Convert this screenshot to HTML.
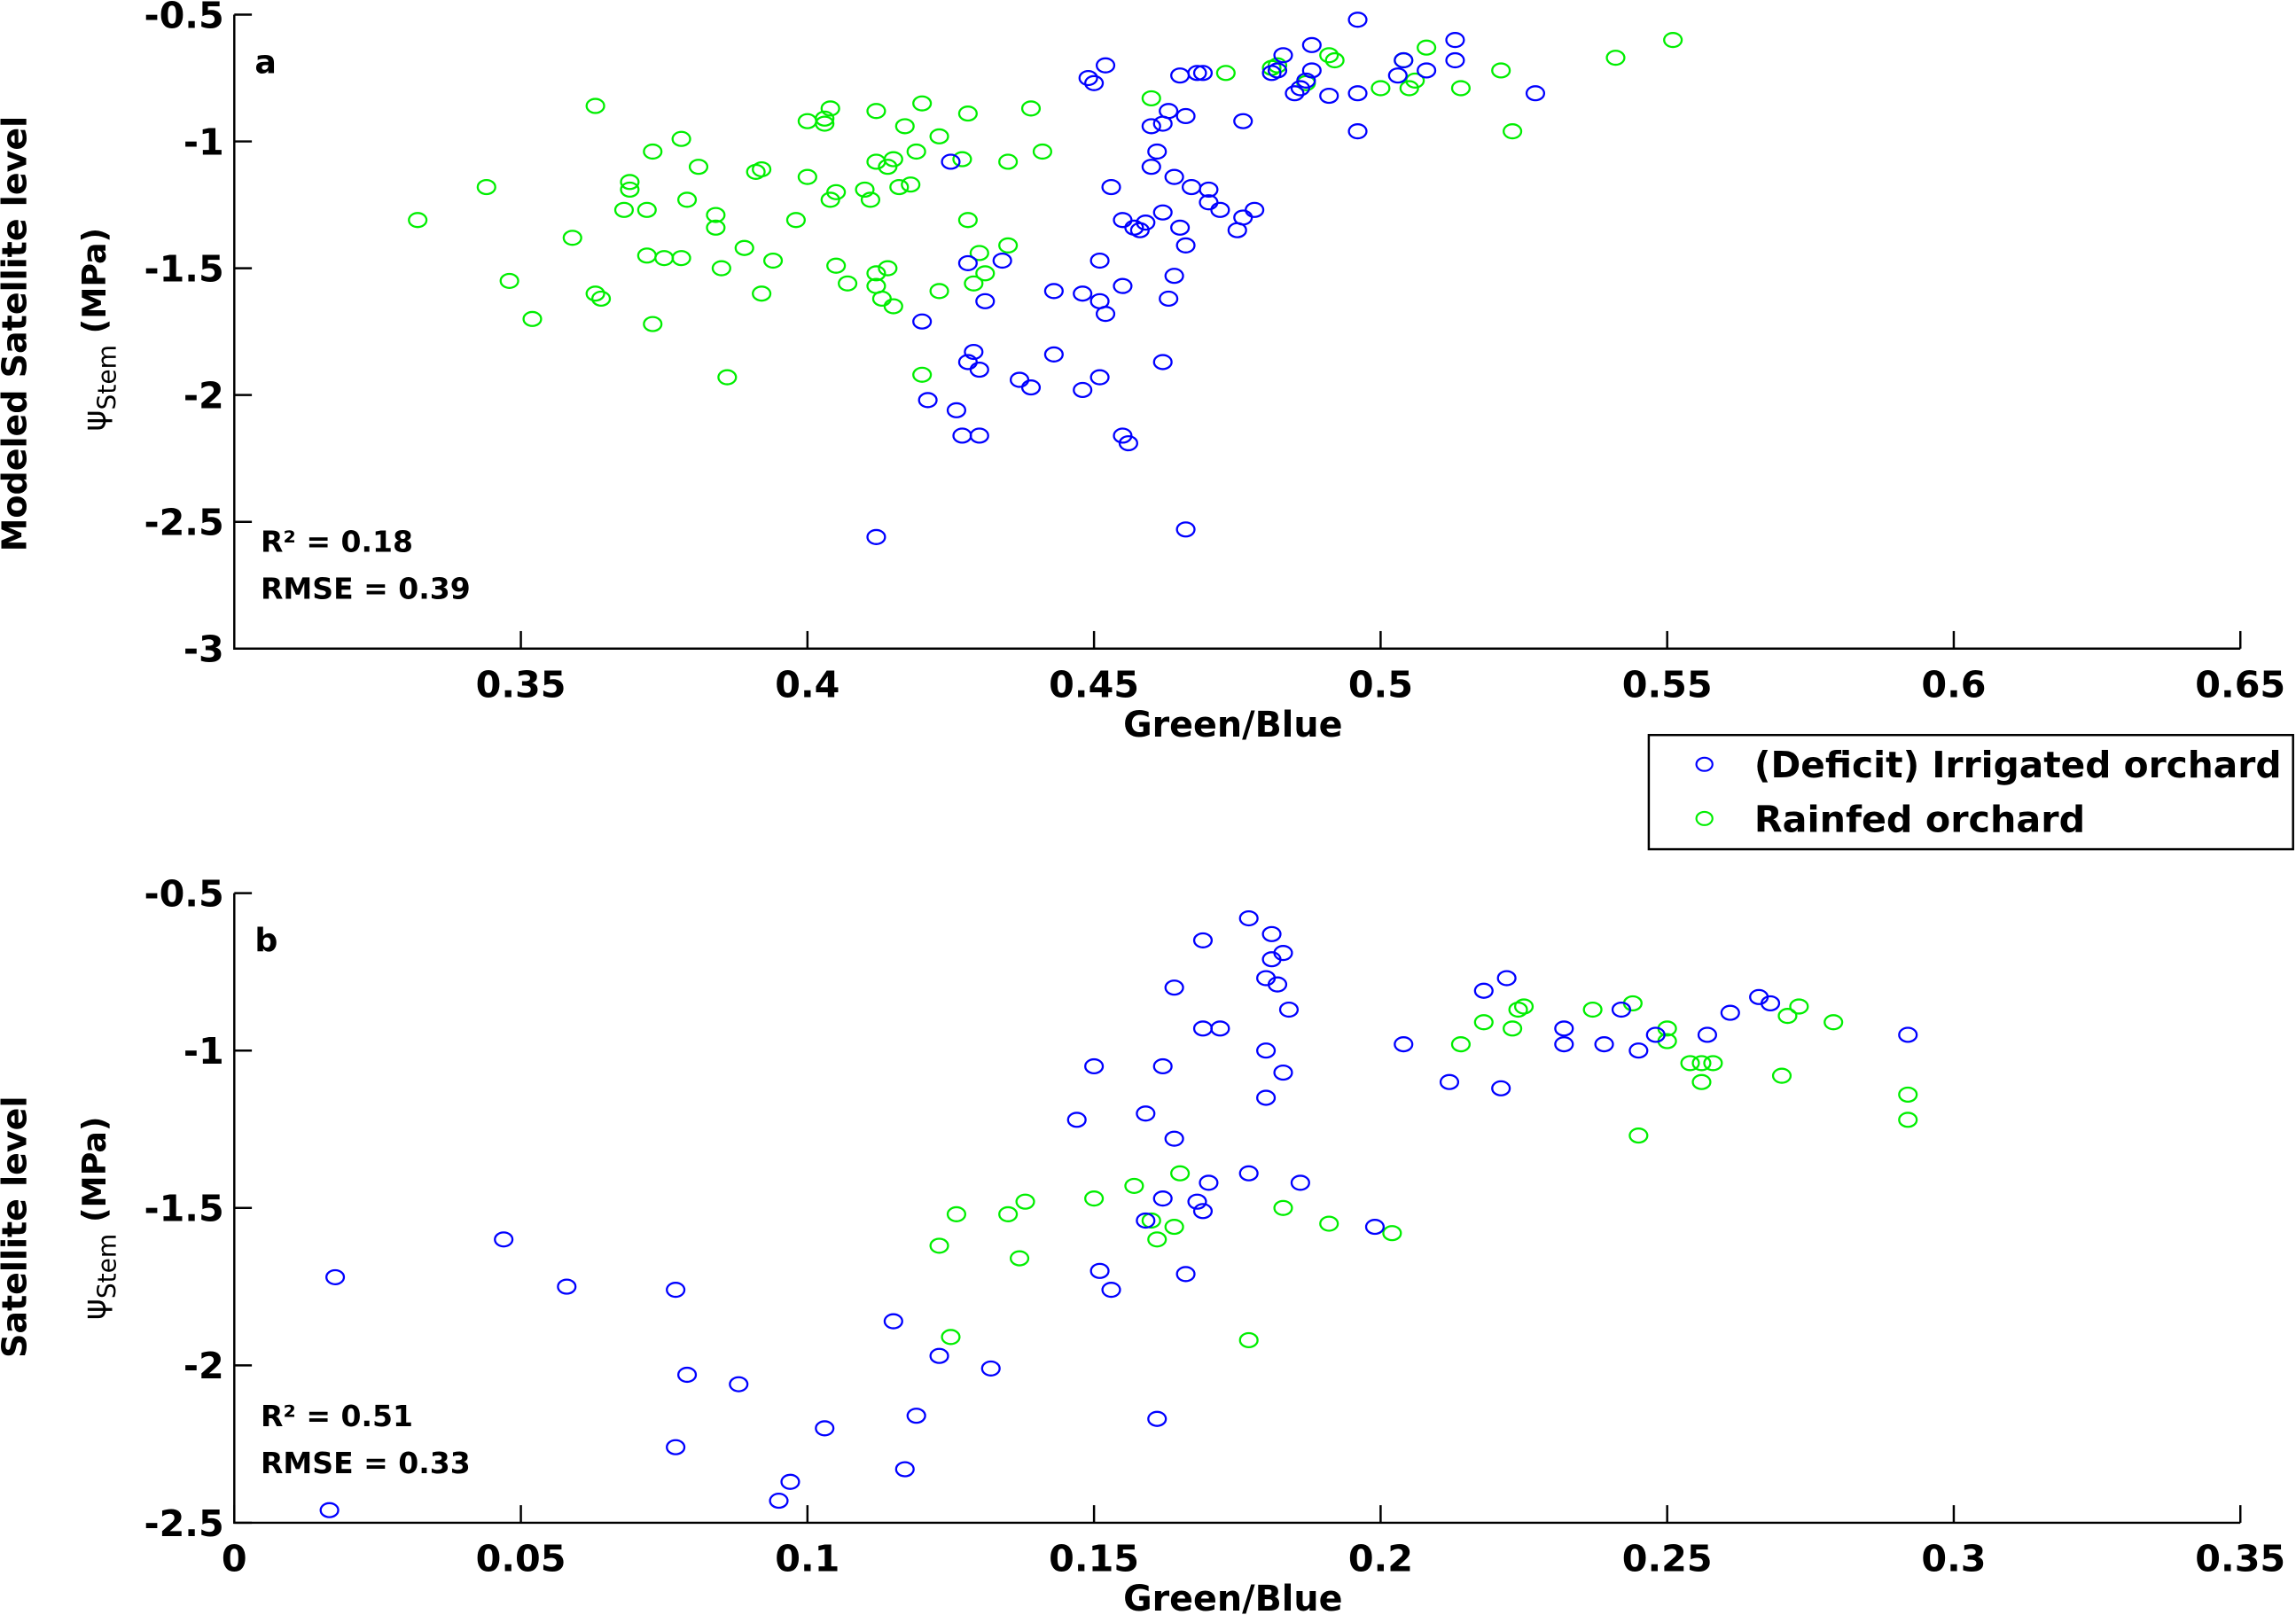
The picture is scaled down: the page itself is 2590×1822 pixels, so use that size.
<!DOCTYPE html>
<html><head><meta charset="utf-8"><style>
html,body{margin:0;padding:0;background:#fff}
svg{display:block}
text{font-family:"DejaVu Sans","Liberation Sans",sans-serif;font-weight:bold;fill:#000}
</style></head><body>
<svg id="chart" xmlns="http://www.w3.org/2000/svg" width="2590" height="1822" viewBox="0 0 1568 1103" preserveAspectRatio="none">
<g id="pa"></g>
<g id="pb"></g>
<g>
<rect x="1126" y="502" width="440" height="78" fill="#fff" stroke="#000" stroke-width="1.5"/>
<ellipse cx="1164" cy="522" rx="5.5" ry="4.5" fill="none" stroke="#0000ff" stroke-width="1.3"/>
<text x="1198" y="531" font-size="25" textLength="360" lengthAdjust="spacingAndGlyphs">(Deficit) Irrigated orchard</text>
<ellipse cx="1164" cy="559" rx="5.5" ry="4.5" fill="none" stroke="#00ee00" stroke-width="1.3"/>
<text x="1198" y="568" font-size="25" textLength="226" lengthAdjust="spacingAndGlyphs">Rainfed orchard</text>
</g>
</svg>
<script>
const aXTicks=[0.35,0.4,0.45,0.5,0.55,0.6,0.65];
const aXTickLabels=["0.35","0.4","0.45","0.5","0.55","0.6","0.65"];
const aYTicks=[-0.5,-1,-1.5,-2,-2.5,-3];
const aYTickLabels=["-0.5","-1","-1.5","-2","-2.5","-3"];
const aIrrX=[0.496,0.488,0.513,0.513,0.483,0.482,0.481,0.488,0.487,0.486,0.485,0.491,0.496,0.504,0.503,0.508,0.527,0.452,0.449,0.450,0.465,0.468,0.469,0.476,0.463,0.466,0.460,0.462,0.461,0.496,0.460,0.425,0.464,0.467,0.470,0.453,0.470,0.472,0.478,0.476,0.462,0.455,0.457,0.459,0.458,0.465,0.475,0.466,0.434,0.428,0.451,0.464,0.455,0.443,0.448,0.451,0.463,0.431,0.452,0.420,0.443,0.429,0.428,0.430,0.462,0.437,0.439,0.451,0.448,0.421,0.426,0.427,0.430,0.455,0.456,0.412,0.466];
const aIrrY=[-0.52,-0.62,-0.60,-0.68,-0.66,-0.72,-0.73,-0.72,-0.76,-0.79,-0.81,-0.82,-0.81,-0.68,-0.74,-0.72,-0.81,-0.70,-0.75,-0.77,-0.74,-0.73,-0.73,-0.92,-0.88,-0.90,-0.94,-0.93,-1.04,-0.96,-1.10,-1.08,-1.14,-1.18,-1.19,-1.18,-1.24,-1.27,-1.27,-1.30,-1.28,-1.31,-1.34,-1.32,-1.35,-1.34,-1.35,-1.41,-1.47,-1.48,-1.47,-1.53,-1.57,-1.59,-1.60,-1.63,-1.62,-1.63,-1.68,-1.71,-1.84,-1.83,-1.87,-1.90,-1.87,-1.94,-1.97,-1.93,-1.98,-2.02,-2.06,-2.16,-2.16,-2.16,-2.19,-2.56,-2.53];
const aRainX=[0.332,0.344,0.348,0.352,0.359,0.363,0.363,0.364,0.368,0.369,0.369,0.372,0.372,0.375,0.373,0.373,0.378,0.378,0.379,0.381,0.384,0.384,0.385,0.386,0.389,0.391,0.392,0.392,0.394,0.398,0.400,0.400,0.403,0.403,0.404,0.404,0.405,0.405,0.407,0.410,0.412,0.411,0.412,0.412,0.412,0.413,0.414,0.414,0.415,0.416,0.415,0.417,0.419,0.418,0.420,0.420,0.423,0.423,0.427,0.428,0.428,0.429,0.430,0.431,0.435,0.435,0.439,0.441,0.460,0.473,0.481,0.482,0.491,0.492,0.500,0.504,0.505,0.506,0.508,0.514,0.521,0.523,0.541,0.551,0.487];
const aRainY=[-1.31,-1.18,-1.55,-1.70,-1.38,-0.86,-1.60,-1.62,-1.27,-1.16,-1.19,-1.27,-1.45,-1.46,-1.72,-1.04,-0.99,-1.46,-1.23,-1.10,-1.29,-1.34,-1.50,-1.93,-1.42,-1.12,-1.11,-1.60,-1.47,-1.31,-0.92,-1.14,-0.93,-0.91,-0.87,-1.23,-1.20,-1.49,-1.56,-1.19,-1.08,-1.23,-0.88,-1.52,-1.57,-1.62,-1.50,-1.10,-1.07,-1.18,-1.65,-0.94,-1.04,-1.17,-0.85,-1.92,-0.98,-1.59,-1.07,-0.89,-1.31,-1.56,-1.44,-1.52,-1.41,-1.08,-0.87,-1.04,-0.83,-0.73,-0.71,-0.70,-0.66,-0.68,-0.79,-0.68,-0.79,-0.76,-0.63,-0.79,-0.72,-0.96,-0.67,-0.60,-0.77];

const bXTicks=[0,0.05,0.1,0.15,0.2,0.25,0.3,0.35];
const bXTickLabels=["0","0.05","0.1","0.15","0.2","0.25","0.3","0.35"];
const bYTicks=[-0.5,-1,-1.5,-2,-2.5];
const bYTickLabels=["-0.5","-1","-1.5","-2","-2.5"];
const bIrrX=[0.0176,0.0166,0.047,0.058,0.077,0.079,0.077,0.088,0.097,0.095,0.103,0.115,0.117,0.119,0.123,0.132,0.147,0.150,0.151,0.153,0.159,0.159,0.161,0.162,0.162,0.164,0.164,0.166,0.168,0.169,0.170,0.169,0.169,0.172,0.177,0.177,0.181,0.181,0.180,0.182,0.183,0.184,0.180,0.180,0.183,0.186,0.199,0.204,0.212,0.218,0.222,0.221,0.232,0.232,0.239,0.242,0.245,0.248,0.257,0.261,0.266,0.268,0.292];
const bIrrY=[-1.72,-2.46,-1.60,-1.75,-1.76,-2.03,-2.26,-2.06,-2.37,-2.43,-2.20,-1.86,-2.33,-2.16,-1.97,-2.01,-1.22,-1.05,-1.70,-1.76,-1.54,-1.20,-2.17,-1.47,-1.05,-1.28,-0.80,-1.71,-1.48,-1.51,-1.42,-0.65,-0.93,-0.93,-0.58,-1.39,-0.63,-0.71,-0.77,-0.79,-0.69,-0.87,-1.00,-1.15,-1.07,-1.42,-1.56,-0.98,-1.10,-0.81,-0.77,-1.12,-0.98,-0.93,-0.98,-0.87,-1.00,-0.95,-0.95,-0.88,-0.83,-0.85,-0.95];
const bRainX=[0.123,0.125,0.126,0.135,0.137,0.138,0.150,0.157,0.160,0.161,0.164,0.165,0.177,0.183,0.191,0.202,0.214,0.218,0.223,0.224,0.225,0.237,0.244,0.245,0.250,0.250,0.254,0.256,0.258,0.256,0.270,0.271,0.273,0.279,0.292,0.292];
const bRainY=[-1.62,-1.91,-1.52,-1.52,-1.66,-1.48,-1.47,-1.43,-1.54,-1.60,-1.56,-1.39,-1.92,-1.50,-1.55,-1.58,-0.98,-0.91,-0.93,-0.87,-0.86,-0.87,-0.85,-1.27,-0.97,-0.93,-1.04,-1.04,-1.04,-1.10,-1.08,-0.89,-0.86,-0.91,-1.14,-1.22];

const NS="http://www.w3.org/2000/svg";
function mk(tag,attrs,parent){const e=document.createElementNS(NS,tag);for(const k in attrs)e.setAttribute(k,attrs[k]);parent.appendChild(e);return e;}

function panel(g,o){
  const L=160,R=1530,T=o.top,B=o.bottom;
  const sx=v=>L+(v-o.xmin)/(o.xmax-o.xmin)*(R-L);
  const sy=v=>T+(o.ymax-v)/(o.ymax-o.ymin)*(B-T);
  const ax=mk('path',{d:`M${L},${T} L${L},${B} L${R},${B}`,fill:'none',stroke:'#000','stroke-width':1.5},g);
  
  
  o.yt.forEach((v,i)=>{
    const y=sy(v);
    const t=mk('line',{x1:L,x2:L+12,y1:y,y2:y,stroke:'#000','stroke-width':1.5},g);
    
    
    const tx=mk('text',{x:153,y:y+9,'font-size':25,'text-anchor':'end'},g);
    tx.textContent=o.ytl[i];
    
    
  });
  o.xt.forEach((v,i)=>{
    const x=sx(v);
    const t=mk('line',{x1:x,x2:x,y1:B,y2:B-12,stroke:'#000','stroke-width':1.5},g);
    
    
    const tx=mk('text',{x:x,y:B+33,'font-size':25,'text-anchor':'middle'},g);
    tx.textContent=o.xtl[i];
    
    
  });
  [[o.gx,o.gy,'#00ee00','rainfed-point'],[o.bx,o.by,'#0000ff','irrigated-point']].forEach(s=>{
    s[0].forEach((v,i)=>{
      const c=mk('ellipse',{cx:sx(v),cy:sy(s[1][i]),rx:6,ry:4.8,fill:'none',stroke:s[2],'stroke-width':1.4},g);
      
      
    });
  });
  const xt=mk('text',{x:842,y:B+60,'font-size':24,'text-anchor':'middle'},g);
  xt.textContent='Green/Blue';
  
  
  const pl=mk('text',{x:174,y:T+40,'font-size':22},g);
  pl.textContent=o.label;
  
  
  const r2=mk('text',{x:178,y:o.r2y,'font-size':20},g);
  r2.textContent=o.r2;
  
  
  const rm=mk('text',{x:178,y:o.r2y+32,'font-size':20},g);
  rm.textContent=o.rmse;
  
  
  const yt1=mk('text',{x:0,y:0,'font-size':23,'text-anchor':'middle',transform:`translate(18,${o.ycen1}) rotate(-90)`},g);
  yt1.textContent=o.ytitle;
  
  
  const yt2=mk('text',{x:0,y:0,'font-size':22,'text-anchor':'middle',transform:`translate(72,${o.ycen2}) rotate(-90)`},g);
  yt2.innerHTML='<tspan font-weight="normal">ψ</tspan><tspan font-size="17" font-weight="normal" dy="7">Stem</tspan><tspan dy="-7"> (MPa)</tspan>';
  
  
}
panel(document.getElementById('pa'),{top:10,bottom:443,xmin:0.30,xmax:0.65,ymin:-3,ymax:-0.5,xt:aXTicks,xtl:aXTickLabels,yt:aYTicks,ytl:aYTickLabels,bx:aIrrX,by:aIrrY,gx:aRainX,gy:aRainY,label:'a',r2:'R² = 0.18',rmse:'RMSE = 0.39',r2y:377,ytitle:'Modeled Satellite level',ycen1:228,ycen2:225});
panel(document.getElementById('pb'),{top:610,bottom:1040,xmin:0,xmax:0.35,ymin:-2.5,ymax:-0.5,xt:bXTicks,xtl:bXTickLabels,yt:bYTicks,ytl:bYTickLabels,bx:bIrrX,by:bIrrY,gx:bRainX,gy:bRainY,label:'b',r2:'R² = 0.51',rmse:'RMSE = 0.33',r2y:974,ytitle:'Satellite level',ycen1:838,ycen2:832});
</script>
</body></html>
